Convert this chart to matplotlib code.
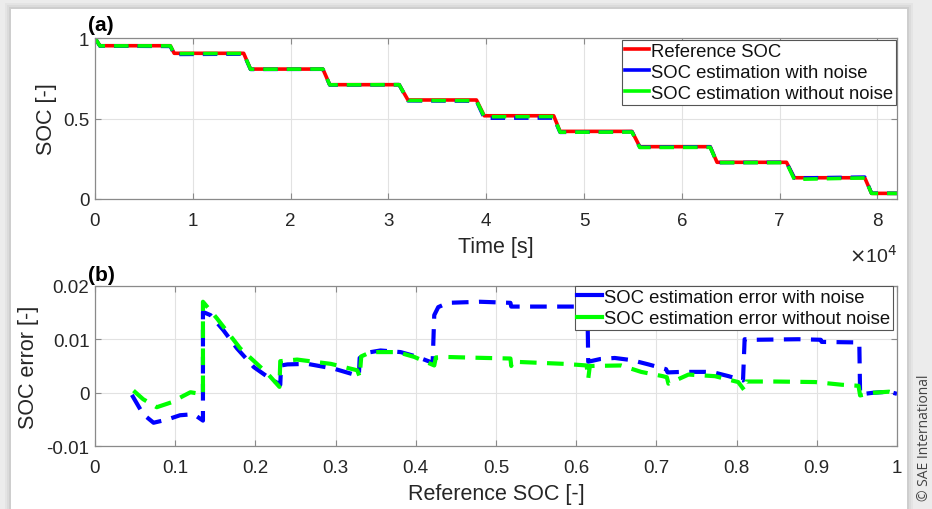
#!/usr/bin/env python3
"""SOC estimation: reference vs. estimated SOC (a) and estimation error (b)."""

import matplotlib
matplotlib.use("Agg")
import matplotlib.pyplot as plt
from matplotlib.patches import Rectangle
from matplotlib.ticker import FuncFormatter

plt.rcParams['font.family'] = ['Liberation Sans', 'DejaVu Sans']
plt.rcParams['axes.unicode_minus'] = False

# --- (a) SOC vs time -------------------------------------------------------
time_s = [0, 500, 7700, 8100, 15200, 15900, 23300, 24000, 31100, 32000,
          39000, 39800, 46900, 47550, 54900, 55700, 62900, 63600, 70700,
          71500, 78700, 79400, 82000]
soc_ref = [1.0, 0.952, 0.952, 0.905, 0.905, 0.807, 0.807, 0.71, 0.71, 0.615,
           0.615, 0.517, 0.517, 0.42, 0.42, 0.325, 0.325, 0.228, 0.228,
           0.132, 0.132, 0.035, 0.035]
soc_noise = [1.0, 0.950, 0.948, 0.898, 0.900, 0.805, 0.806, 0.708, 0.710, 0.610,
             0.608, 0.502, 0.503, 0.414, 0.418, 0.322, 0.324, 0.226, 0.228,
             0.130, 0.136, 0.036, 0.035]
soc_no_noise = [1.0, 0.951, 0.951, 0.903, 0.904, 0.806, 0.807, 0.709, 0.710, 0.612,
                0.611, 0.511, 0.512, 0.415, 0.416, 0.320, 0.321, 0.226, 0.226,
                0.122, 0.131, 0.035, 0.035]

# --- (b) error vs reference SOC --------------------------------------------
err_noise_x = [0.046, 0.060, 0.073, 0.090, 0.106, 0.123, 0.1346, 0.1346,
               0.144, 0.160, 0.177, 0.198, 0.215, 0.231, 0.232, 0.240,
               0.265, 0.298, 0.323, 0.329, 0.330, 0.340, 0.356, 0.381,
               0.400, 0.421, 0.423, 0.428, 0.440, 0.480, 0.518, 0.519,
               0.550, 0.606, 0.614, 0.615, 0.630, 0.648, 0.669, 0.690,
               0.712, 0.714, 0.731, 0.769, 0.790, 0.808, 0.810, 0.823,
               0.877, 0.905, 0.906, 0.953, 0.954, 0.970, 0.990, 1.000]
err_noise_y = [-0.0004, -0.0040, -0.0056, -0.0050, -0.0042, -0.0040, -0.0052, 0.0151,
               0.0145, 0.0117, 0.0083, 0.0048, 0.0030, 0.0015, 0.0051, 0.0053,
               0.0054, 0.0045, 0.0034, 0.0032, 0.0065, 0.0075, 0.0079, 0.0076,
               0.0068, 0.0056, 0.0145, 0.0160, 0.0168, 0.0170, 0.0168, 0.0161,
               0.0161, 0.0161, 0.0160, 0.0058, 0.0063, 0.0065, 0.0061, 0.0053,
               0.0044, 0.0038, 0.0039, 0.0039, 0.0031, 0.0023, 0.0100, 0.0099,
               0.0100, 0.0099, 0.0095, 0.0094, -0.0003, 0.0000, 0.0002, -0.0002]
err_clean_x = [0.048, 0.060, 0.077, 0.095, 0.110, 0.119, 0.131, 0.1346,
               0.1346, 0.152, 0.181, 0.215, 0.230, 0.231, 0.252, 0.294,
               0.327, 0.330, 0.332, 0.344, 0.377, 0.398, 0.423, 0.425,
               0.435, 0.460, 0.4875, 0.518, 0.519, 0.521, 0.585, 0.613,
               0.615, 0.617, 0.656, 0.681, 0.708, 0.713, 0.715, 0.740,
               0.773, 0.802, 0.810, 0.812, 0.848, 0.898, 0.931, 0.952,
               0.954, 0.970, 0.990, 1.000]
err_clean_y = [0.0004, -0.0012, -0.0027, -0.0018, -0.0006, 0.0001, -0.0002, -0.0004,
               0.0170, 0.0139, 0.0083, 0.0036, 0.0011, 0.0059, 0.0062, 0.0054,
               0.0042, 0.0030, 0.0068, 0.0076, 0.0076, 0.0067, 0.0051, 0.0066,
               0.0067, 0.0066, 0.0065, 0.0064, 0.0050, 0.0058, 0.0054, 0.0051,
               0.0026, 0.0050, 0.0051, 0.0039, 0.0031, 0.0029, 0.0017, 0.0034,
               0.0031, 0.0020, 0.0004, 0.0021, 0.0021, 0.0020, 0.0015, 0.0013,
               -0.0005, 0.0000, 0.0002, -0.0002]

RED, BLUE, GREEN = '#ff0000', '#0000ff', '#00ff00'
DASH = (4, 2.5)
AX_COLOR = '#8a8a8a'
TXT = '#262626'
TICK_FS, LABEL_FS, LEG_FS = 13.5, 15.5, 13.3


def style_axes(ax):
    for sp in ax.spines.values():
        sp.set_color(AX_COLOR)
        sp.set_linewidth(0.9)
    ax.tick_params(direction='in', length=4, width=0.8, color=AX_COLOR,
                   labelsize=TICK_FS, labelcolor=TXT, top=True, right=True)
    ax.tick_params(axis='x', pad=9.5)
    ax.tick_params(axis='y', pad=4)
    ax.grid(True, color='#e2e2e2', linewidth=0.8)
    ax.set_axisbelow(True)


def solid_legend(ax, loc_bbox):
    leg = ax.legend(loc='upper right', bbox_to_anchor=loc_bbox, fontsize=LEG_FS,
                    handlelength=1.35, handletextpad=0.1, borderpad=0.15,
                    labelspacing=0.22, borderaxespad=0.0, fancybox=False,
                    framealpha=1, edgecolor='#555555')
    leg.get_frame().set_linewidth(0.8)
    for line in leg.get_lines():
        line.set_linestyle('-')
    for t in leg.get_texts():
        t.set_color('#111111')
    return leg


fig = plt.figure(figsize=(9.32, 5.10), dpi=100, facecolor='#ececec')
# white card with a soft shadow, kept behind the axes
for i, a in enumerate([0.03, 0.04, 0.06]):
    grow = 3 - i
    fig.patches.append(Rectangle(((11 - grow * 2) / 932, -0.05),
                                 (896 + grow * 4) / 932,
                                 (500 + grow * 2) / 510 + 0.05,
                                 transform=fig.transFigure, facecolor='black',
                                 alpha=a, edgecolor='none', zorder=-10))
fig.patches.append(Rectangle((11 / 932, -0.05), 896 / 932, 500 / 510 + 0.05,
                             transform=fig.transFigure, facecolor='white',
                             edgecolor='none', zorder=-9))

ax1 = fig.add_axes([95 / 932, 310 / 510, 802 / 932, 161 / 510])
ax2 = fig.add_axes([95 / 932, 62.7 / 510, 802 / 932, 160.6 / 510])

# (a)
ax1.plot(time_s, soc_ref, color=RED, lw=2.6, label='Reference SOC')
ax1.plot(time_s, soc_noise, color=BLUE, lw=2.6, dashes=DASH,
         label='SOC estimation with noise')
ax1.plot(time_s, soc_no_noise, color=GREEN, lw=2.6, dashes=DASH,
         label='SOC estimation without noise')
ax1.set_xlim(0, 82000)
ax1.set_ylim(0, 1)
ax1.set_xticks([i * 1e4 for i in range(9)])
ax1.xaxis.set_major_formatter(FuncFormatter(lambda v, _: f'{v / 1e4:g}'))
ax1.set_yticks([0, 0.5, 1])
ax1.yaxis.set_major_formatter(FuncFormatter(lambda v, _: f'{v:g}'))
style_axes(ax1)
ax1.set_xlabel('Time [s]', fontsize=LABEL_FS, color=TXT)
ax1.set_ylabel('SOC [-]', fontsize=LABEL_FS, color=TXT)
ax1.xaxis.set_label_coords(0.5, -0.23)
ax1.yaxis.set_label_coords(-0.048, 0.5)
ax1.text(1.0, -0.35, r'$\times$10$^{4}$', transform=ax1.transAxes,
         ha='right', va='center', fontsize=14, color=TXT)
ax1.text(-0.009, 1.025, '(a)', transform=ax1.transAxes, ha='left',
         va='bottom', fontsize=15, fontweight='bold')
solid_legend(ax1, (0.999, 0.988))

# (b)
ax2.plot(err_noise_x, err_noise_y, color=BLUE, lw=3.0, dashes=DASH,
         label='SOC estimation error with noise')
ax2.plot(err_clean_x, err_clean_y, color=GREEN, lw=3.0, dashes=DASH,
         label='SOC estimation error without noise')
ax2.set_xlim(0, 1)
ax2.set_ylim(-0.01, 0.02)
ax2.set_xticks([i / 10 for i in range(11)])
ax2.xaxis.set_major_formatter(FuncFormatter(lambda v, _: f'{v:g}'))
ax2.set_yticks([-0.01, 0, 0.01, 0.02])
ax2.yaxis.set_major_formatter(FuncFormatter(lambda v, _: f'{v:g}'))
style_axes(ax2)
ax2.set_xlabel('Reference SOC [-]', fontsize=LABEL_FS, color=TXT)
ax2.set_ylabel('SOC error [-]', fontsize=LABEL_FS, color=TXT)
ax2.xaxis.set_label_coords(0.5, -0.23)
ax2.yaxis.set_label_coords(-0.07, 0.5)
ax2.text(-0.009, 1.012, '(b)', transform=ax2.transAxes, ha='left',
         va='bottom', fontsize=15, fontweight='bold')
solid_legend(ax2, (0.995, 0.997))

fig.text(925 / 932, 72 / 510, '\u00a9 SAE International', rotation=90,
         ha='center', va='center', fontsize=10, color='#444444',
         family=['Open Sans', 'DejaVu Sans'])

fig.savefig('out.png', dpi=100, facecolor=fig.get_facecolor())
